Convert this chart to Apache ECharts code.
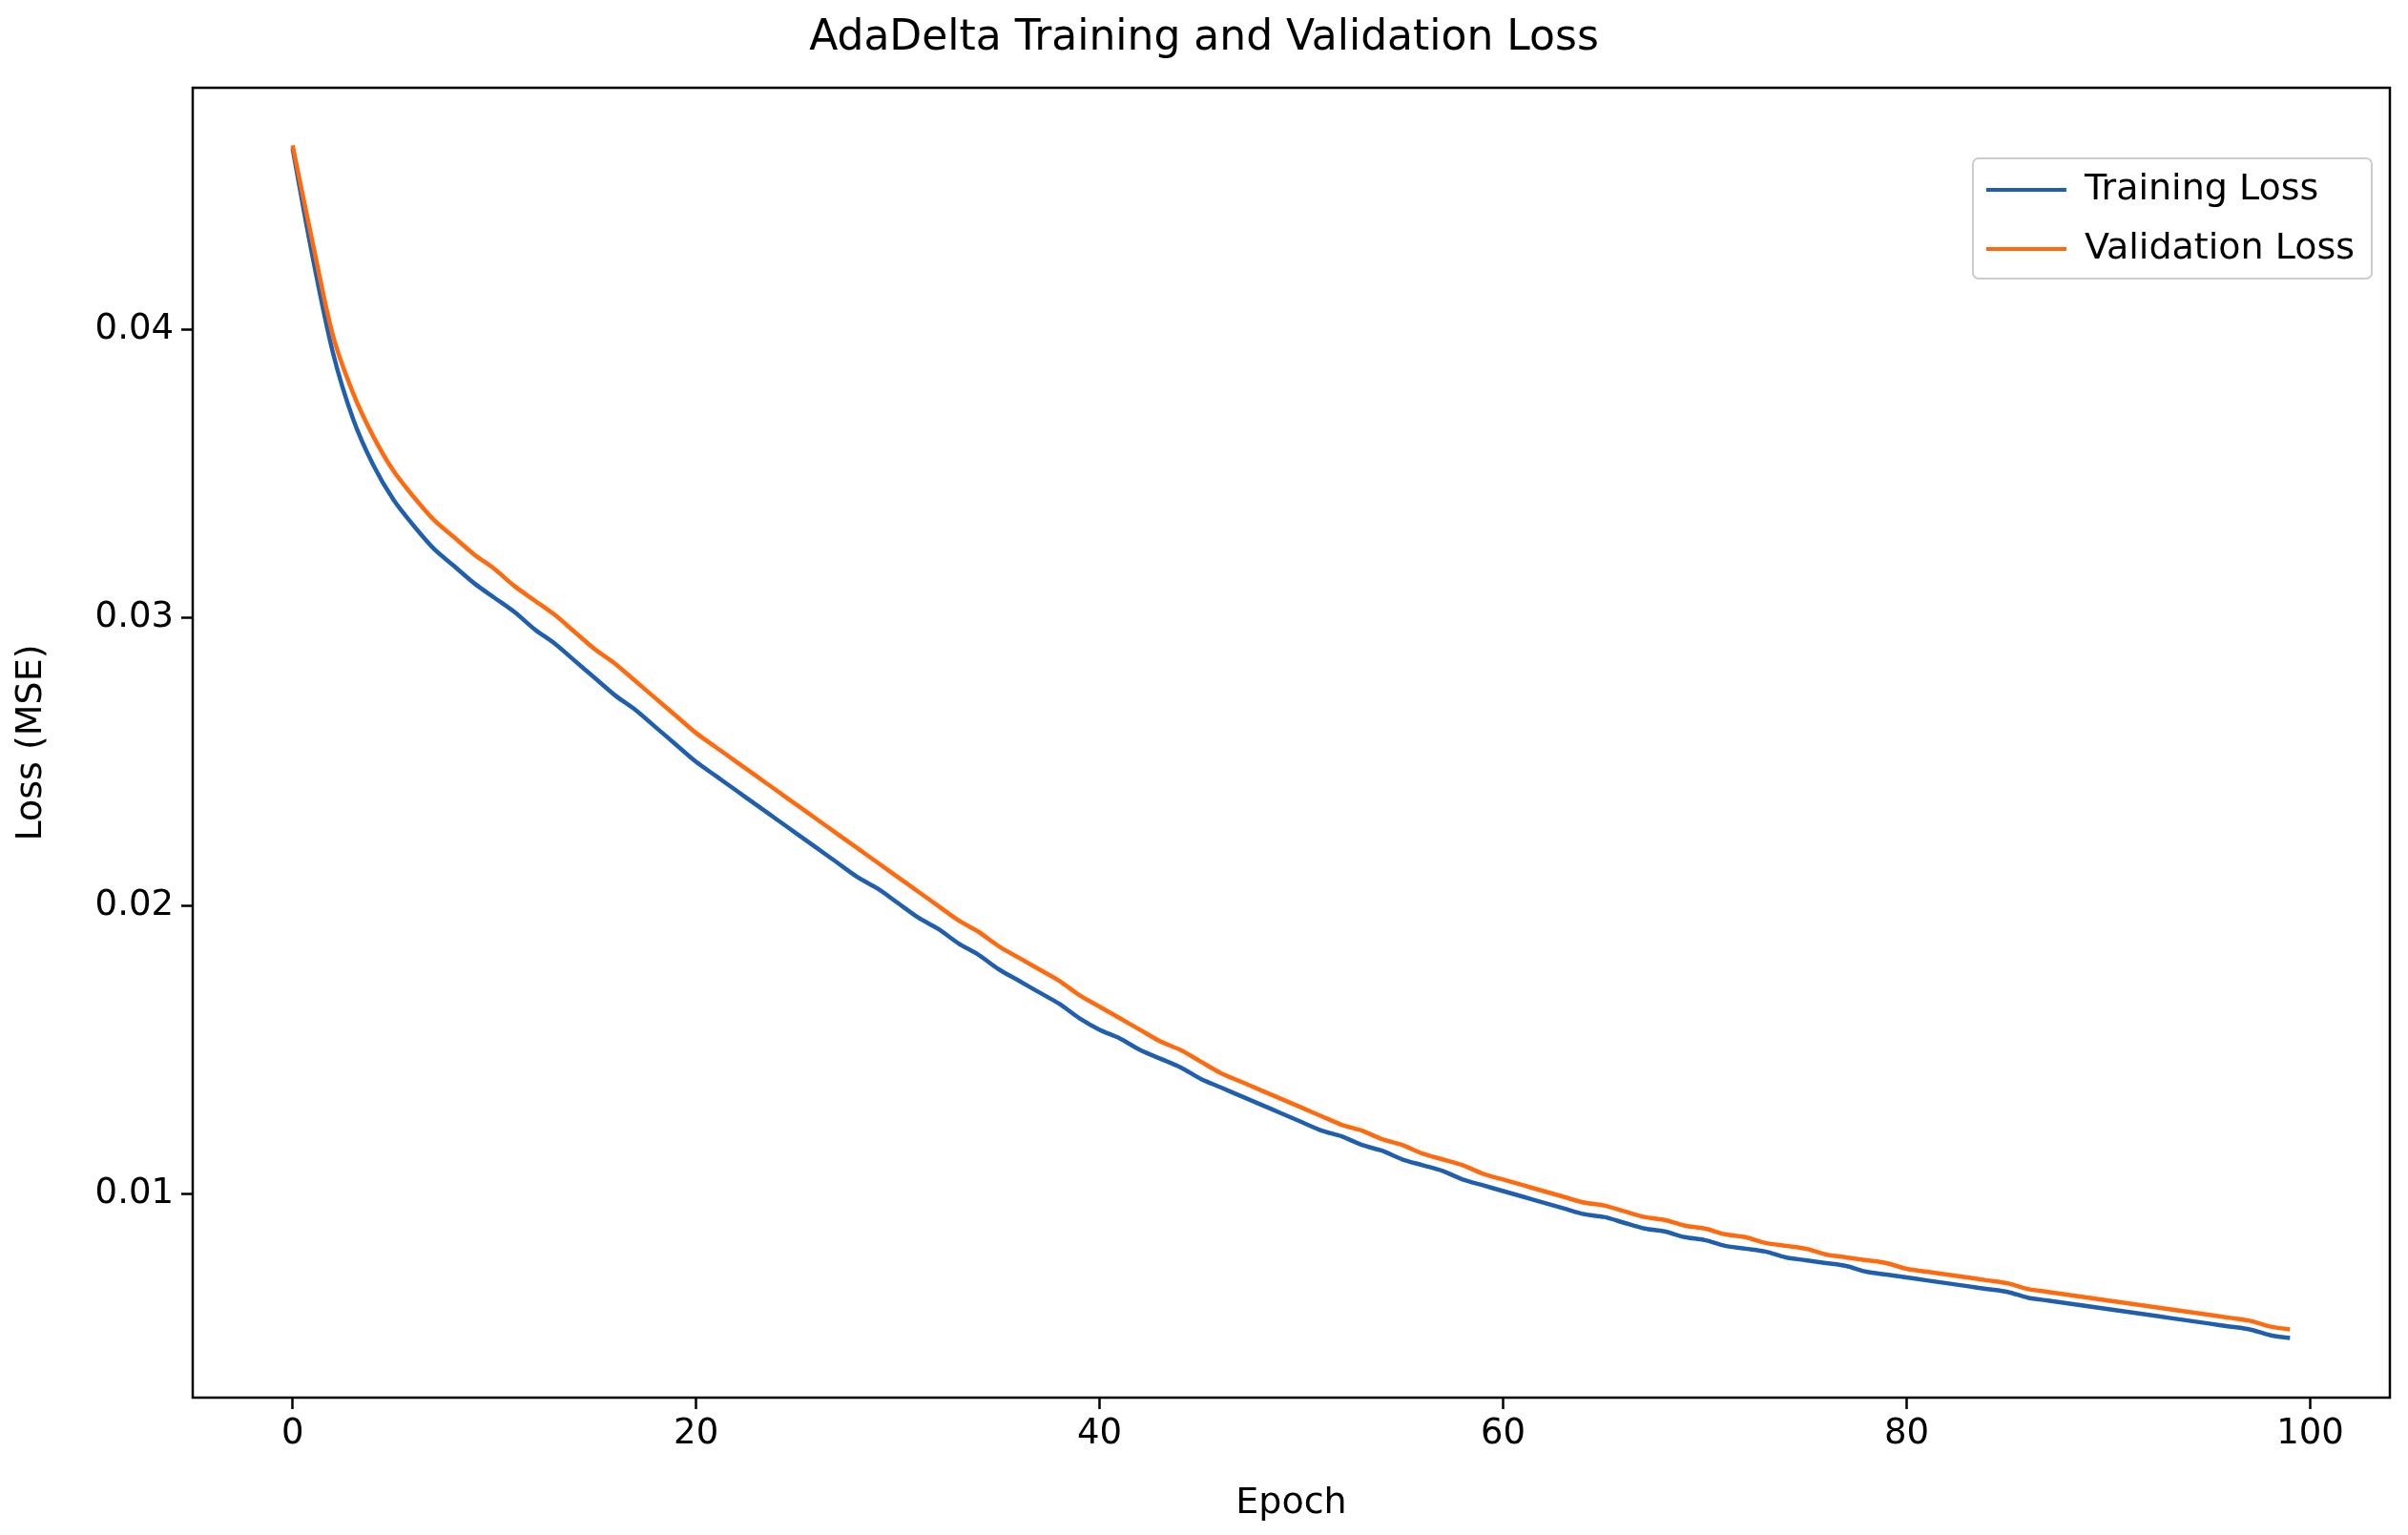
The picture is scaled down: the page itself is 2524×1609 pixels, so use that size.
<!DOCTYPE html>
<html><head><meta charset="utf-8">
<script src="https://cdn.jsdelivr.net/npm/echarts@6/dist/echarts.min.js"></script>
<style>html,body{margin:0;padding:0;background:#fff}#c{width:2524px;height:1609px}</style>
</head><body><div id="c"></div>
<script>
const epochs = Array.from({length:100},(_,i)=>i);
const trainingLoss = [
.0463,.0425,.0392,.0369,.0353,.0341,.0332,.0324,.0318,.0312,
.0307,.0302,.0296,.0291,.0285,.0279,.0273,.0268,.0262,.0256,
.0250,.0245,.0240,.0235,.0230,.0225,.0220,.0215,.0210,.0206,
.0201,.0196,.0192,.0187,.0183,.0178,.0174,.0170,.0166,.0161,
.0157,.0154,.0150,.0147,.0144,.0140,.0137,.0134,.0131,.0128,
.0125,.0122,.0120,.0117,.0115,.0112,.0110,.0108,.0105,.0103,
.0101,.0099,.0097,.0095,.0093,.0092,.0090,.0088,.0087,.0085,
.0084,.0082,.0081,.0080,.0078,.0077,.0076,.0075,.0073,.0072,
.0071,.0070,.0069,.0068,.0067,.0066,.0064,.0063,.0062,.0061,
.0060,.0059,.0058,.0057,.0056,.0055,.0054,.0053,.0051,.0050];
const validationLoss = [
.0464,.0430,.0398,.0378,.0363,.0351,.0342,.0334,.0328,.0322,
.0317,.0311,.0306,.0301,.0295,.0289,.0284,.0278,.0272,.0266,
.0260,.0255,.0250,.0245,.0240,.0235,.0230,.0225,.0220,.0215,
.0210,.0205,.0200,.0195,.0191,.0186,.0182,.0178,.0174,.0169,
.0165,.0161,.0157,.0153,.0150,.0146,.0142,.0139,.0136,.0133,
.0130,.0127,.0124,.0122,.0119,.0117,.0114,.0112,.0110,.0107,
.0105,.0103,.0101,.0099,.0097,.0096,.0094,.0092,.0091,.0089,
.0088,.0086,.0085,.0083,.0082,.0081,.0079,.0078,.0077,.0076,
.0074,.0073,.0072,.0071,.0070,.0069,.0067,.0066,.0065,.0064,
.0063,.0062,.0061,.0060,.0059,.0058,.0057,.0056,.0054,.0053];
const xTicks = [0,20,40,60,80,100];
const yTicks = [0.01,0.02,0.03,0.04];
const F = 'DejaVu Sans';
const chart = echarts.init(document.getElementById('c'));
chart.setOption({
  animation:false,
  title:{text:'AdaDelta Training and Validation Loss',left:'center',top:14,textStyle:{fontFamily:F,fontSize:44,fontWeight:'normal',color:'#000'}},
  legend:{orient:'vertical',right:38,top:166,itemWidth:84,itemHeight:4,itemGap:24,padding:[14,18,12,14],
    borderColor:'#cccccc',borderWidth:2,borderRadius:6,backgroundColor:'#fff',
    textStyle:{fontFamily:F,fontSize:38,color:'#000',padding:[0,0,0,14]},icon:'rect'},
  grid:{left:202,right:19,top:92,bottom:144,show:true,borderColor:'#000',borderWidth:2.5,backgroundColor:'transparent'},
  xAxis:{type:'value',min:-4.95,max:103.95,name:'Epoch',nameLocation:'middle',nameGap:92,
    nameTextStyle:{fontFamily:F,fontSize:38,color:'#000'},
    axisLine:{show:false,onZero:false},splitLine:{show:false},
    axisTick:{customValues:xTicks,length:12,lineStyle:{color:'#000',width:2.5}},
    axisLabel:{customValues:xTicks,fontFamily:F,fontSize:37,color:'#000',margin:20}},
  yAxis:{type:'value',min:0.00293,max:0.0484,name:'Loss (MSE)',nameLocation:'middle',nameGap:150,
    nameTextStyle:{fontFamily:F,fontSize:38,color:'#000'},
    axisLine:{show:false,onZero:false},splitLine:{show:false},
    axisTick:{customValues:yTicks,length:12,lineStyle:{color:'#000',width:2.5}},
    axisLabel:{customValues:yTicks,fontFamily:F,fontSize:37,color:'#000',margin:20,formatter:v=>v.toFixed(2)}},
  series:[
    {name:'Training Loss',type:'line',data:epochs.map((e,i)=>[e,trainingLoss[i]]),showSymbol:false,smooth:0.3,
      lineStyle:{color:'#1f5fae',width:4.5},itemStyle:{color:'#1f5fae'}},
    {name:'Validation Loss',type:'line',data:epochs.map((e,i)=>[e,validationLoss[i]]),showSymbol:false,smooth:0.3,
      lineStyle:{color:'#ff6a0f',width:4.5},itemStyle:{color:'#ff6a0f'}}
  ]
});
</script></body></html>
